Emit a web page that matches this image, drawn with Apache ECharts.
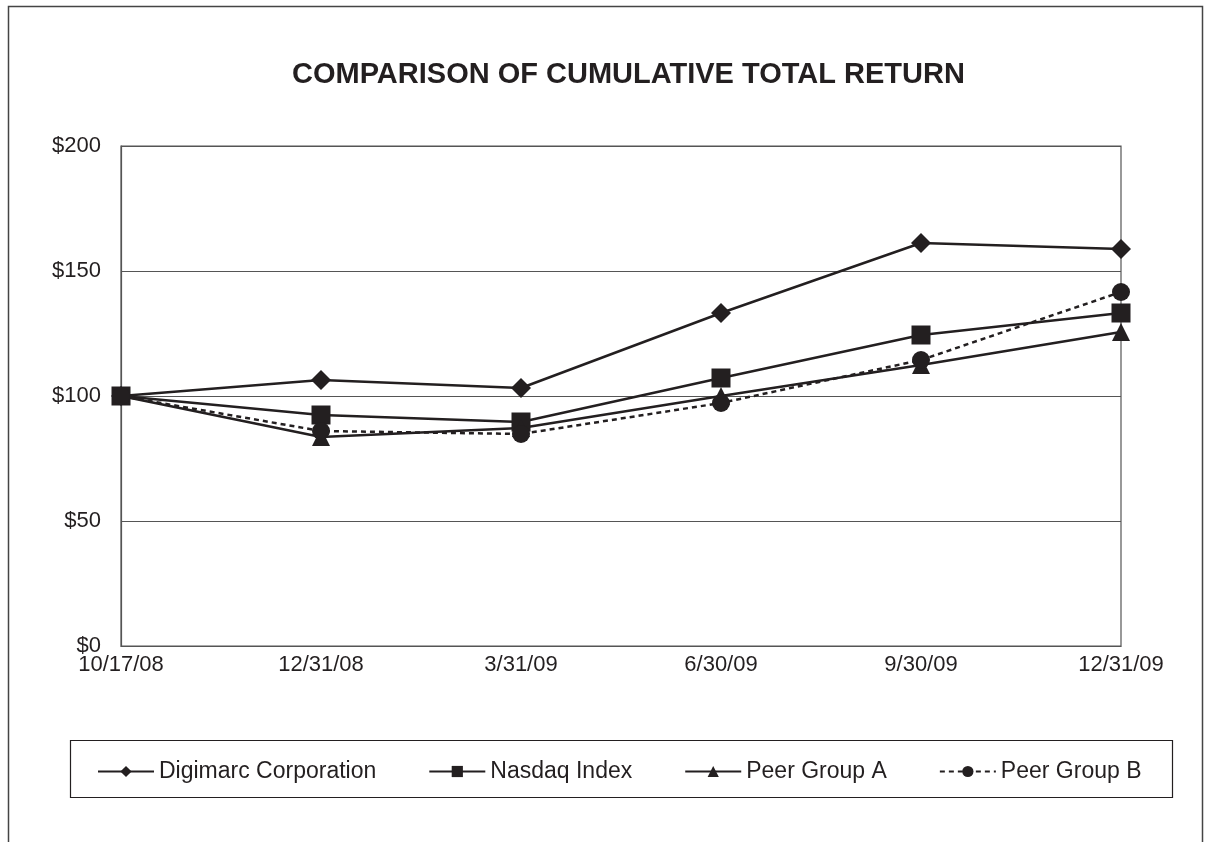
<!DOCTYPE html>
<html lang="en">
<head>
	<meta charset="UTF-8">
	<title>Comparison of Cumulative Total Return</title>
	<style>
		html, body { margin: 0; padding: 0; background: #fff; }
	</style>
</head>
<body>
	<div id="main" style="width: 1206px;height:842px;"></div>
<script type="text/javascript" src="https://cdn.jsdelivr.net/npm/echarts@6/dist/echarts.min.js"></script>
<script type="text/javascript">
	// categories and series values
	var dates = ['10/17/08', '12/31/08', '3/31/09', '6/30/09', '9/30/09', '12/31/09'];
	var digimarc = [100, 106.4, 103.2, 133.2, 161.2, 158.8];
	var nasdaq = [100, 92.4, 89.6, 107.2, 124.4, 133.2];
	var peerA = [100, 83.6, 87.2, 100, 112.4, 125.6];
	var peerB = [100, 86, 84.8, 97.2, 114.4, 141.6];
	var yTicks = [0, 50, 100, 150, 200];

	var ink = '#231f20';
	var font = 'Liberation Sans, Arial, sans-serif';

	var myChart = echarts.init(document.getElementById('main'));

	function line(name, data, symbol, size, dashed) {
		return {
			name: name,
			type: 'line',
			data: data,
			symbol: symbol,
			symbolSize: size,
			showSymbol: true,
			itemStyle: { color: ink },
			lineStyle: { color: ink, width: 2.5, type: dashed ? [5, 4] : 'solid' },
			emphasis: { disabled: true },
			animation: false
		};
	}

	myChart.setOption({
		animation: false,
		title: {
			text: 'COMPARISON OF CUMULATIVE TOTAL RETURN',
			left: 287,
			top: 55,
			textStyle: { fontFamily: font, fontSize: 29, fontWeight: 'bold', color: ink }
		},
		graphic: [
			// outer frame (bottom edge runs off the page)
			{ type: 'rect', shape: { x: 8.5, y: 6.5, width: 1194, height: 900 },
			  style: { fill: 'none', stroke: '#444', lineWidth: 1.5 } },
			// legend box
			{ type: 'rect', shape: { x: 70.5, y: 740.5, width: 1102, height: 57 },
			  style: { fill: 'none', stroke: ink, lineWidth: 1.2 } }
		],
		legend: {
			top: 755,
			left: 92,
			itemGap: 52,
			itemWidth: 56,
			itemHeight: 14,
			data: ['Digimarc Corporation', 'Nasdaq Index', 'Peer Group A', 'Peer Group B'],
			textStyle: { fontFamily: font, fontSize: 23, color: ink }
		},
		grid: {
			left: 121, right: 85, top: 146, bottom: 196,
			show: true, borderColor: '#555', borderWidth: 1.2
		},
		xAxis: {
			type: 'category',
			data: dates,
			boundaryGap: false,
			axisLine: { lineStyle: { color: '#555', width: 1.2 } },
			axisTick: { show: false },
			axisLabel: { fontFamily: font, fontSize: 22, color: ink, margin: 8 }
		},
		yAxis: {
			type: 'value',
			min: yTicks[0],
			max: yTicks[yTicks.length - 1],
			interval: 50,
			axisLine: { show: true, lineStyle: { color: '#555', width: 1.2 } },
			axisTick: { show: false },
			splitLine: { lineStyle: { color: '#555', width: 1.2 } },
			axisLabel: {
				fontFamily: font, fontSize: 22, color: ink, margin: 20,
				formatter: function (v) { return '$' + v; }
			}
		},
		series: [
			line('Digimarc Corporation', digimarc, 'diamond', 20, false),
			line('Nasdaq Index', nasdaq, 'rect', 19, false),
			line('Peer Group A', peerA, 'triangle', 18, false),
			line('Peer Group B', peerB, 'circle', 18, true)
		]
	});
</script>
</body>
</html>
